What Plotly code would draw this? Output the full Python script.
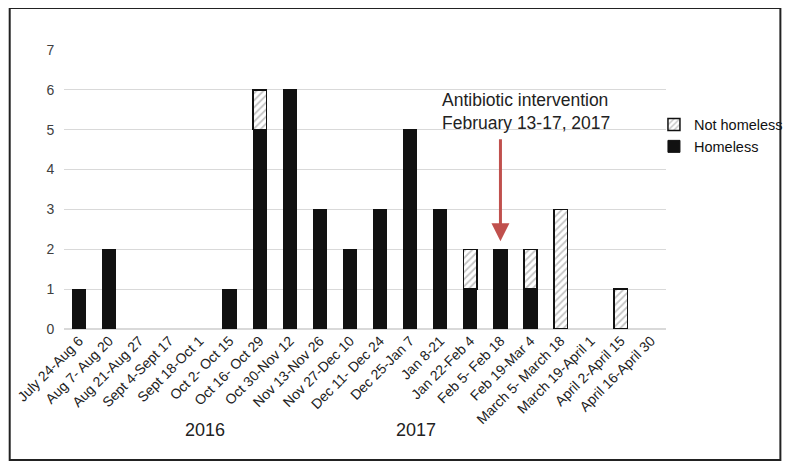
import plotly.graph_objects as go

categories = ["July 24-Aug 6", "Aug 7- Aug 20", "Aug 21-Aug 27", "Sept 4-Sept 17",
              "Sept 18-Oct 1", "Oct 2- Oct 15", "Oct 16- Oct 29", "Oct 30-Nov 12",
              "Nov 13-Nov 26", "Nov 27-Dec 10", "Dec 11- Dec 24", "Dec 25-Jan 7",
              "Jan 8-21", "Jan 22-Feb 4", "Feb 5- Feb 18", "Feb 19-Mar 4",
              "March 5- March 18", "March 19-April 1", "April 2-April 15", "April 16-April 30"]
homeless = [1, 2, 0, 0, 0, 1, 5, 6, 3, 2, 3, 5, 3, 1, 2, 1, 0, 0, 0, 0]
not_homeless = [0, 0, 0, 0, 0, 0, 1, 0, 0, 0, 0, 0, 0, 1, 0, 1, 3, 0, 1, 0]
year_labels = ["2016", "2017"]
intervention_text = "Antibiotic intervention<br>February 13-17, 2017"
intervention_bin = "Feb 5- Feb 18"

FONT = "Liberation Sans, Arial, sans-serif"


def nz(vals):
    # zero-height bars are not drawn (avoid outline slivers)
    return [v if v else None for v in vals]


fig = go.Figure()
fig.add_trace(go.Bar(
    x=categories, y=nz(homeless), name="Homeless",
    marker=dict(color="#111111", line=dict(color="#111111", width=1)),
))
fig.add_trace(go.Bar(
    x=categories, y=nz(not_homeless), name="Not homeless",
    marker=dict(color="white", line=dict(color="#111111", width=1.5),
                pattern=dict(shape="/", fgcolor="#888888", bgcolor="white", size=5, solidity=0.35)),
))

# page body has an 8px default margin, so the figure is 8px smaller and shifted
fig.update_layout(
    barmode="stack",
    bargap=0.56,
    width=792, height=460,
    margin=dict(l=56, r=126, t=42, b=139),
    paper_bgcolor="white", plot_bgcolor="white",
    font=dict(family=FONT, size=12, color="#333333"),
    showlegend=True,
    legend=dict(x=0.98, y=0.79, xanchor="left", yanchor="top", traceorder="reversed",
                font=dict(size=14.5, color="#111111"), bgcolor="rgba(0,0,0,0)",
                itemwidth=30, tracegroupgap=6),
    xaxis=dict(tickangle=-45, tickfont=dict(size=14, color="#222222"), showgrid=False,
               showline=False, ticks="", automargin=False),
    yaxis=dict(range=[0, 7], dtick=1, showgrid=True, gridcolor="#d9d9d9", gridwidth=1,
               zeroline=True, zerolinecolor="#d9d9d9", tickfont=dict(size=14, color="#404040"),
               ticks="outside", ticklen=6, tickcolor="rgba(0,0,0,0)", showline=False,
               automargin=False),
)

# outer frame
fig.add_shape(type="rect", xref="paper", yref="paper",
              x0=-0.0902, x1=1.190, y0=-0.4695, y1=1.1505,
              line=dict(color="#222222", width=2), fillcolor="rgba(0,0,0,0)", layer="below")

# intervention text
fig.add_annotation(xref="paper", yref="paper", x=0.624, y=0.865, xanchor="left", yanchor="top",
                   text=intervention_text, showarrow=False, align="left",
                   font=dict(size=17.5, color="#222222", family=FONT))
# arrow
fig.add_annotation(x=intervention_bin, y=2.2, xref="x", yref="y",
                   ax=intervention_bin, ay=4.8, axref="x", ayref="y",
                   text="", showarrow=True, arrowhead=2, arrowsize=1.2, arrowwidth=3,
                   arrowcolor="#c0504d")

# year labels
for label, xp in zip(year_labels, [0.198, 0.584]):
    fig.add_annotation(xref="paper", yref="paper", x=xp, y=-0.405, text=label,
                       showarrow=False, font=dict(size=18, color="#222222", family=FONT))

fig.write_html("out.html")
